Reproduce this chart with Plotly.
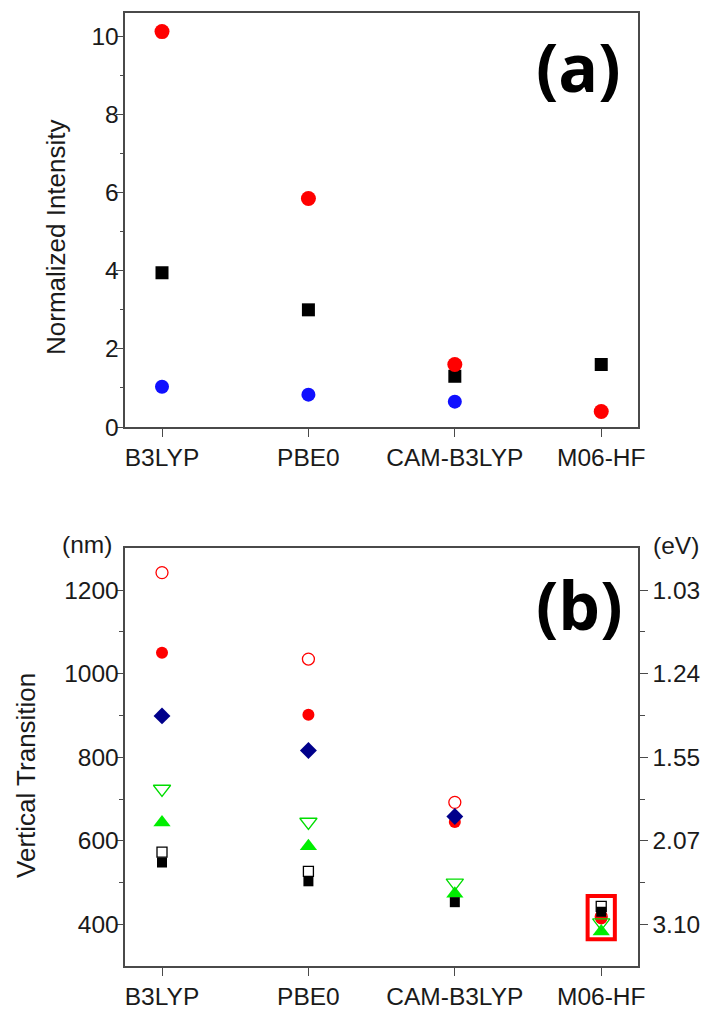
import plotly.graph_objects as go

# ---------------- data ----------------
methods = ["B3LYP", "PBE0", "CAM-B3LYP", "M06-HF"]

# panel (a): normalized intensity
int_red = [10.12, 5.85, 1.6, 0.4]
int_black = [3.95, 3.0, 1.3, 1.6]
int_blue = [1.03, 0.83, 0.65, None]

# panel (b): vertical transition (nm)
vt_red_open = [1242, 1035, 692, 418]
vt_red_fill = [1050, 902, 645, 414]
vt_navy_diamond = [899, 816, 658, None]
vt_green_open = [724, 645, 499, 404]
vt_green_fill = [644, 587, 473, 383]
vt_black_open = [573, 527, None, 443]
vt_black_fill = [548, 503, 453, 430]

nm_ticks = [1200, 1000, 800, 600, 400]
ev_labels = ["1.03", "1.24", "1.55", "2.07", "3.10"]

# ---------------- figure ----------------
W, H = 711, 1023
FONT = "Liberation Sans, Arial, sans-serif"
TXT = "#1a1a1a"
AX = "#4a4a4a"

fig = go.Figure()

def sc(y, xa, ya, symbol, color, size, open_=False):
    mk = dict(symbol=symbol, size=size, color=color)
    if open_:
        mk["line"] = dict(color=color, width=1.3)
    else:
        mk["line"] = dict(width=0)
    return go.Scatter(x=methods, y=y, xaxis=xa, yaxis=ya, mode="markers",
                      showlegend=False, marker=mk)

# panel (a)
fig.add_trace(sc(int_black, "x", "y", "square", "#000000", 13))
fig.add_trace(sc(int_blue, "x", "y", "circle", "#1010ff", 14))
fig.add_trace(sc(int_red, "x", "y", "circle", "#ff0000", 15))

# panel (b)
fig.add_trace(sc(vt_red_open, "x2", "y2", "circle-open", "#ff0000", 12, True))
fig.add_trace(sc(vt_red_fill, "x2", "y2", "circle", "#ff0000", 12))
fig.add_trace(sc(vt_navy_diamond, "x2", "y2", "diamond", "#00008b", 13))
fig.add_trace(sc(vt_green_fill, "x2", "y2", "triangle-up", "#00ee00", 15))
fig.add_trace(sc(vt_green_open, "x2", "y2", "triangle-down-open", "#00dd00", 15, True))
fig.add_trace(sc(vt_black_fill, "x2", "y2", "square", "#000000", 10))
fig.add_trace(sc(vt_black_open, "x2", "y2", "square-open", "#000000", 10, True))
# dummy trace to activate right axis
fig.add_trace(go.Scatter(x=[methods[0]], y=[None], xaxis="x2", yaxis="y3",
                         mode="markers", showlegend=False, hoverinfo="skip"))

xdom = [126 / W, 645 / W]
ya_dom = [1 - 433 / H, 1 - 13 / H]
yb_dom = [1 - 979.5 / H, 1 - 556 / H]

tickfont = dict(family=FONT, size=24.5, color=TXT)
common_x = dict(
    type="category", range=[-0.25, 3.25], showline=True, linecolor=AX, linewidth=1.5,
    mirror=True, ticks="outside", ticklen=8, tickwidth=1.3, tickcolor=AX,
    showgrid=False, zeroline=False, tickfont=tickfont, domain=xdom,
)
fig.update_layout(
    width=W, height=H, margin=dict(l=0, r=0, t=0, b=0),
    paper_bgcolor="white", plot_bgcolor="white",
    xaxis=dict(anchor="y", **common_x),
    xaxis2=dict(anchor="y2", **common_x),
    yaxis=dict(
        domain=ya_dom, anchor="x", range=[0, 10.6], tickvals=[0, 2, 4, 6, 8, 10],
        showline=True, linecolor=AX, linewidth=1.5, mirror=True,
        ticks="outside", ticklen=8, tickwidth=1.3, tickcolor=AX,
        minor=dict(tickvals=[1, 3, 5, 7, 9], ticks="outside", ticklen=4,
                   tickwidth=1.3, tickcolor=AX),
        showgrid=False, zeroline=False, tickfont=tickfont,
        ticklabelposition="outside", ticklabelstandoff=-8,
    ),
    yaxis2=dict(
        domain=yb_dom, anchor="x2", range=[300, 1300], tickvals=nm_ticks,
        showline=True, linecolor=AX, linewidth=1.5, mirror=False,
        ticks="outside", ticklen=8, tickwidth=1.3, tickcolor=AX,
        minor=dict(tickvals=[1100, 900, 700, 500], ticks="outside", ticklen=5,
                   tickwidth=1.3, tickcolor=AX),
        showgrid=False, zeroline=False, tickfont=tickfont,
        ticklabelposition="outside", ticklabelstandoff=-8,
    ),
    yaxis3=dict(
        overlaying="y2", side="right", anchor="x2", range=[300, 1300],
        tickvals=nm_ticks, ticktext=ev_labels,
        showline=True, linecolor=AX, linewidth=1.5,
        ticks="outside", ticklen=8, tickwidth=1.3, tickcolor=AX,
        minor=dict(tickvals=[1100, 900, 700, 500], ticks="outside", ticklen=5,
                   tickwidth=1.3, tickcolor=AX),
        showgrid=False, zeroline=False, tickfont=tickfont, ticklabelstandoff=0,
    ),
)

# red highlight box around M06-HF in panel (b)
fig.add_shape(type="rect", xref="x2", yref="y2", x0=2.907, x1=3.093, y0=364, y1=468,
              line=dict(color="#ff0000", width=4), fillcolor="rgba(0,0,0,0)")

def ann(text, x, y, size, bold=False, angle=0, family=FONT):
    fig.add_annotation(
        text=("<b>%s</b>" % text) if bold else text, x=x / W, y=1 - y / H,
        xref="paper", yref="paper", showarrow=False, textangle=angle,
        xanchor="center", yanchor="middle",
        font=dict(family=family, size=size, color="#000000" if bold else TXT),
    )

ann("(a)", 585, 66.5, 66, bold=True, family="Open Sans, sans-serif")
ann("(b)", 586, 612, 66, bold=True, family="Open Sans, sans-serif")
ann("Normalized Intensity", 55, 240, 26, angle=-90)
ann("Vertical Transition", 26, 786, 26, angle=-90)
ann("(nm)", 87.5, 552, 24.5)
ann("(eV)", 684, 553, 24.5)

fig.write_html("out.html")
